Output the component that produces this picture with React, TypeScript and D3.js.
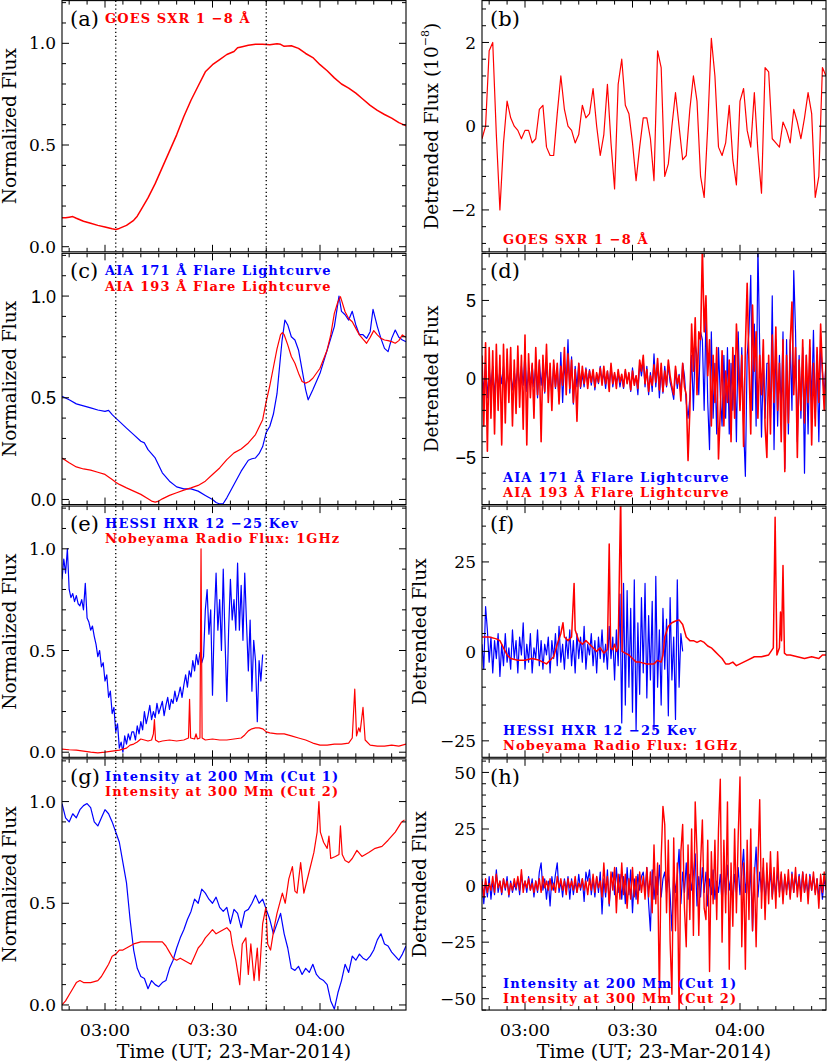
import React from 'react';
import * as d3 from 'd3';

// time axis: minutes after 02:48 UT on 23-Mar-2014
const T0 = Date.UTC(2014, 2, 23, 2, 48);
const SPAN_MIN = 96;
const MARKER_MIN = [15, 57]; // 03:03 and 03:45 dotted guides
const DET_STEP = 0.5; // cadence (min) of the sampled detrended series

type Pt = [number, number];

// (a) GOES SXR 1-8 A, normalized
const goesNorm: Pt[] = [
  [0, 0.143], [1, 0.142], [2, 0.145], [3, 0.148], [4, 0.14], [6, 0.125], [8, 0.115], [10, 0.105],
  [12, 0.097], [14, 0.088], [15, 0.085], [16, 0.09], [18, 0.105], [20, 0.13], [21, 0.15], [22, 0.18],
  [24, 0.24], [26, 0.31], [28, 0.39], [30, 0.47], [32, 0.55], [34, 0.64], [36, 0.72], [38, 0.79],
  [40, 0.86], [42, 0.895], [44, 0.92], [46, 0.945], [48, 0.96], [49, 0.978], [50, 0.982], [52, 0.99],
  [54, 0.995], [56, 0.995], [58, 0.993], [60, 0.998], [61, 0.995], [62, 0.985], [64, 0.988], [66, 0.975],
  [68, 0.95], [70, 0.93], [72, 0.895], [74, 0.865], [76, 0.83], [78, 0.8], [80, 0.78], [82, 0.755],
  [84, 0.725], [86, 0.695], [88, 0.67], [90, 0.65], [92, 0.632], [94, 0.61], [96, 0.595],
];

// (b) GOES detrended, one value per minute
const goesDet = [
  -0.3, 0, 1.8, 2.0, -0.2, -2.0, -0.4, 0.6, 0.2, 0, -0.1, -0.3, -0.1, -0.1, -0.4, -0.3, 0.4, 0.5, -0.5, -0.7,
  -0.7, 0.3, 1.2, 0.4, 0, -0.1, -0.4, -0.2, 0.5, 0.2, 0.3, 0.9, 0, -0.7, -0.2, 1.0, -0.4, -1.5, 1.0, 1.6,
  0.5, 0.3, -0.4, -1.3, -0.5, 0.2, 0.2, -0.3, -1.3, 1.8, 1.4, -1.2, -0.9, 0, 0.8, 0, -0.8, -0.7, 0.4, 1.2,
  0.6, -1.2, -1.7, 0, 2.1, 1.2, -0.5, -0.7, -0.4, 0.5, -0.8, -1.4, 0.6, 0.9, -0.1, -0.5, 0.8, -0.6, -1.6, 1.4,
  1.3, -0.3, -0.4, -0.5, 0.1, -0.1, -0.4, 0.4, 0.1, -0.3, 0.2, 0.8, 0.3, -1.7, -1.2, 1.4, 1.2,
];

// (c) AIA flare lightcurves, normalized
const aia171Norm: Pt[] = [
  [0, 0.507], [2, 0.49], [4, 0.47], [6, 0.46], [8, 0.45], [10, 0.44], [12, 0.433], [13, 0.438], [14, 0.417],
  [15, 0.4], [16, 0.384], [18, 0.351], [20, 0.319], [22, 0.286], [23, 0.278], [24, 0.245], [26, 0.204],
  [28, 0.131], [30, 0.09], [32, 0.062], [34, 0.052], [36, 0.052], [38, 0.041], [40, 0.02], [42, 0.0],
  [43, -0.015], [44, -0.022], [45, -0.02], [46, 0.008], [48, 0.074], [50, 0.139], [52, 0.193], [53, 0.2],
  [54, 0.204], [55, 0.225], [56, 0.26], [57, 0.33], [58, 0.36], [59, 0.42], [60, 0.52], [60.7, 0.65],
  [61.4, 0.78], [62.2, 0.882], [63, 0.858], [64, 0.8], [65, 0.784], [66, 0.735], [67, 0.637], [68, 0.539],
  [68.7, 0.49], [70, 0.539], [72, 0.62], [74, 0.735], [76, 0.85], [77.3, 1.0], [78, 0.925], [79, 0.908],
  [80, 0.882], [81, 0.925], [82, 0.858], [83, 0.81], [84, 0.81], [85, 0.792], [86, 0.825], [86.8, 0.935],
  [88, 0.85], [89, 0.792], [90, 0.743], [91, 0.727], [92, 0.792], [93, 0.833], [94, 0.797], [95, 0.784], [96, 0.776],
];
const aia193Norm: Pt[] = [
  [0, 0.204], [2, 0.18], [4, 0.16], [6, 0.15], [8, 0.144], [10, 0.134], [12, 0.123], [14, 0.098], [15, 0.085],
  [16, 0.074], [18, 0.057], [20, 0.041], [22, 0.025], [24, 0.003], [25, -0.008], [26, -0.013], [27, -0.008],
  [28, 0.003], [30, 0.02], [32, 0.033], [34, 0.046], [36, 0.057], [38, 0.069], [40, 0.09], [42, 0.123],
  [44, 0.155], [46, 0.196], [48, 0.229], [50, 0.248], [52, 0.278], [54, 0.319], [56, 0.392], [57, 0.482],
  [58, 0.56], [59, 0.65], [60, 0.74], [61, 0.81], [61.5, 0.82], [62, 0.81], [63, 0.76], [64, 0.703],
  [65, 0.67], [66, 0.621], [67, 0.58], [68, 0.572], [69, 0.58], [70, 0.596], [72, 0.645], [74, 0.735],
  [75, 0.809], [76, 0.915], [77, 0.972], [77.7, 0.997], [78, 0.98], [79, 0.923], [80, 0.89], [81, 0.874],
  [82, 0.841], [83, 0.809], [84, 0.788], [85, 0.768], [86, 0.797], [87, 0.83], [88, 0.809], [89, 0.792],
  [90, 0.784], [91, 0.781], [92, 0.776], [93, 0.768], [94, 0.781], [95, 0.809], [96, 0.797],
];

// (d) AIA detrended, sampled every DET_STEP minutes
const aia171Det = [
  0.5, -0.8, 1.0, -1.2, 0.6, -0.5, 0.8, -1.0, 0.4, -0.6,
  0.6, -0.3, 0.8, -0.9, 0.5, -0.4, 0.3, -0.7, 0.5, -0.5,
  1.0, -0.6, 0.8, -0.4, 1.7, -0.8, 0.6, -0.3, 0.9, -0.5,
  0.8, -1.2, 1.1, -0.4, 0.7, -0.9, 1.0, -0.6, 0.5, -1.0,
  0.9, -0.6, 0.7, -1.4, 1.7, -1.5, 1.0, -0.3, 2.5, -0.9,
  1.4, -1.6, 0.8, -0.5, 1.0, -0.6, 0.3, -0.5, 0.7, -0.3,
  0.6, -0.4, 0.5, -0.7, 0.3, -0.3, 0.8, -0.2, 0.4, -0.6,
  0.5, -0.4, 0.8, -0.5, 0.3, -0.2, 0.4, -0.5, 0.2, -0.6,
  0.5, -0.2, 0.3, -0.8, 0.7, -0.3, 0.2, -1.0, 1.0, 0.2,
  1.2, -0.5, 0.8, -1.0, 0.4, -0.8, 1.6, -0.5, 1.0, -1.2,
  0.6, -0.9, 0.8, -0.5, 0.9, -0.2, -0.7, -1.3, 0.6, -0.6,
  0.3, -1.0, 1.0, 0.2, -1.5, -2.5, -1.2, 1.5, -2.0, 2.2,
  1.5, -1.0, 3.0, 2.5, -2.0, 4.0, -1.5, -4.5, 3.0, -2.5,
  1.0, -3.5, 2.0, -1.0, -3.0, 1.5, -2.5, 2.0, -3.5, 1.0,
  -2.0, 1.5, -4.0, 3.0, -1.5, 2.0, -3.0, -6.2, 1.5, 3.0,
  6.6, -2.0, 3.5, -3.0, 8.4, 2.0, -3.7, 1.0, -2.5, 1.0,
  1.0, -2.5, 5.3, -4.5, 2.5, -3.0, 1.5, -2.0, 3.0, -5.7,
  2.5, -3.5, 2.5, -2.0, 6.9, 3.0, -4.0, 1.5, -2.5, 2.0,
  -6.0, 1.5, -3.5, 2.0, -1.5, 3.1, -2.5, 1.5, -4.0, 2.2,
  0.5, -1.0, 1.0,
];
const aia193Det = [
  1.5, -3.0, 2.3, -4.6, 2.0, -2.5, 1.8, -3.5, 2.2, -2.0,
  1.5, -4.2, 2.2, -2.8, 1.9, -1.5, 2.0, -3.0, 1.2, -2.2,
  2.1, -1.8, 1.5, -3.2, 2.8, -4.2, 1.6, -1.2, 1.0, -2.5,
  2.0, -1.0, 1.2, -4.0, 1.5, -0.8, 2.2, -1.5, 1.0, -2.0,
  1.2, -0.5, 1.0, -1.6, 0.8, -0.4, 2.0, -1.0, 1.6, -0.6,
  1.2, -1.5, 0.6, -2.7, 1.0, -0.5, 0.8, -0.3, 0.6, -0.6,
  0.5, -0.2, 0.6, -0.5, 0.4, -0.2, 0.7, -0.4, 0.8, -0.3,
  0.5, -0.8, 1.0, -0.3, 0.4, -0.6, 0.6, -0.2, 0.3, -0.5,
  0.6, -0.3, 0.4, -0.7, 0.5, -0.4, 0.2, -0.6, 1.2, 0.5,
  1.5, -0.3, 0.6, -0.8, 0.2, -0.4, 0.9, -0.2, 1.3, -0.7,
  1.0, -0.8, 0.5, -0.4, 1.2, 0.2, -0.5, -1.0, 0.8, -0.3,
  0.2, -1.4, 1.0, -0.5, -1.0, -5.2, -2.0, 3.5, 0.5, 3.9,
  -1.0, 3.0, 2.5, 8.4, 3.0, 5.3, 0.2, 2.5, -3.0, 1.5,
  -1.5, 2.0, -5.1, -2.0, 1.8, -3.0, 0.5, -1.5, 1.2, -4.0,
  2.0, -2.5, 3.5, 1.0, -2.0, 1.5, -4.3, 2.0, 6.1, 1.0,
  -3.5, 4.7, 0.5, 3.0, -2.5, 1.5, -1.0, 2.5, -3.0, -5.0,
  1.5, -3.5, 2.8, -1.5, 3.3, -2.0, 1.0, -4.0, 2.5, -5.9,
  1.5, -2.8, 2.2, 4.9, -1.0, 2.0, -5.0, 1.2, -2.0, 2.5,
  -2.8, 1.5, -1.5, 2.5, -4.2, 1.0, -3.0, 2.0, -1.5, 3.5,
  0.5, -2.0, 1.0,
];

// (e) RHESSI 12-25 keV (sampled) and Nobeyama 1 GHz, normalized
const hessiNorm = [
  0.85, 0.95, 0.88, 1.0, 0.8, 0.76, 0.78, 0.74, 0.77, 0.73,
  0.72, 0.75, 0.7, 0.83, 0.66, 0.64, 0.6, 0.62, 0.57, 0.53,
  0.47, 0.5, 0.42, 0.44, 0.35, 0.38, 0.27, 0.3, 0.19, 0.22,
  0.1, 0.14, 0.02, 0.05, 0.0, 0.08, 0.04, 0.09, 0.06, 0.1,
  0.1, 0.06, 0.13, 0.09, 0.15, 0.11, 0.2, 0.14, 0.18, 0.23,
  0.16, 0.2, 0.17, 0.24, 0.19, 0.22, 0.25, 0.18, 0.23, 0.27,
  0.21, 0.26, 0.24, 0.3, 0.25, 0.28, 0.32, 0.27, 0.33, 0.38,
  0.32, 0.4, 0.37, 0.45, 0.4, 0.48, 0.43, 0.49, 0.44, 0.47,
  0.7, 0.8, 0.58, 0.7, 0.28, 0.65, 0.88, 0.6, 0.75, 0.5,
  0.9, 0.55, 0.25, 0.6, 0.85, 0.65, 0.75, 0.6, 0.93, 0.6,
  0.82, 0.55, 0.88, 0.63, 0.4, 0.65, 0.3, 0.55, 0.45, 0.15,
  0.45, 0.35, 0.48,
];
const nobeyamaNorm: Pt[] = [
  [0, 0.015], [2, 0.012], [4, 0.01], [6, 0.005], [8, 0.0], [10, -0.003], [12, 0.0], [14, 0.005], [16, 0.01],
  [18, 0.02], [19, 0.035], [20, 0.04], [21, 0.05], [22, 0.065], [23, 0.06], [24, 0.055], [25, 0.06],
  [25.5, 0.09], [25.8, 0.16], [26.1, 0.06], [27, 0.05], [28, 0.055], [30, 0.06], [32, 0.055], [34, 0.06],
  [35.3, 0.07], [35.6, 0.26], [35.9, 0.07], [37, 0.065], [37.4, 0.09], [37.8, 0.065], [38.5, 0.07],
  [38.8, 1.0], [39.1, 0.07], [40, 0.06], [42, 0.065], [44, 0.06], [46, 0.06], [48, 0.065], [50, 0.07],
  [51, 0.085], [52, 0.105], [53, 0.115], [54, 0.12], [55, 0.12], [56, 0.115], [57, 0.1], [58, 0.095],
  [60, 0.09], [62, 0.09], [64, 0.08], [66, 0.07], [68, 0.06], [70, 0.045], [72, 0.035], [74, 0.035],
  [76, 0.04], [78, 0.04], [80, 0.045], [81, 0.07], [81.7, 0.31], [82.2, 0.08], [82.8, 0.12], [83.2, 0.1],
  [84, 0.22], [84.6, 0.06], [86, 0.035], [88, 0.03], [90, 0.03], [92, 0.035], [94, 0.03], [96, 0.04],
];

// (f) detrended RHESSI (sampled) and Nobeyama
const hessiDet = [
  2, -5, 12.5, 6, -3, 4, -6, 3, -2, 5,
  -7, 2, -4, 5, -3, 1, -5, 6, -2, 3,
  -6, 4, -1, 8, -5, 2, -3, 5, -6, 1,
  -2, 6, -4, 3, -5, 2, -1, 4, -6, 3,
  -2, 5, -4, 7, -3, 2, -5, 4, -2, 6,
  -4, 3, -6, 5, -2, 4, -3, 7, -5, 2,
  -1, 5, -4, 3, -6, 4, -2, 6, -3, 2,
  -5, 7, -2, 4, -8, 6, -4, 16, -20, 19,
  -15, 17, -10, 12, -17, 20, -22, 8, -12, 15,
  -6, 19, -13, 10, -8, 14, -22, 21, -10, 6,
  -15, 12, -5, 9, -18, 15, -8, 4, -19, 20,
  -10, 5, 0,
];
const nobeyamaDet: Pt[] = [
  [0, 4], [2, 4], [4, 3.5], [5, 3], [6, 1], [7, -1], [8, -2], [10, -2.5], [12, -2.5], [14, -2],
  [16, -2.5], [17, -3], [18, -3.5], [19, -2.5], [20, -1.5], [21, 2], [22, 5], [22.6, 8], [23, 4], [24, 3],
  [25, 4], [25.7, 19], [26, 6], [27, 3], [28, 2], [29, 3], [30, 2], [31, 1], [32, 0], [33, 1], [34, -0.5],
  [35, 0.5], [35.5, 30], [35.9, 1], [36.5, 0.5], [37, 2], [37.5, 0], [38, 1], [38.7, 44], [39.1, 0],
  [40, -0.5], [41, -1], [42, -2], [43, -3], [44, -3], [46, -3.5], [48, -3.5], [49, -2.5], [50, -3],
  [50.5, -1], [51, 4], [52, 7], [53, 8], [54, 8.5], [55, 8.8], [56, 7.5], [57, 4], [58, 3], [59, 3],
  [60, 2.5], [61, 3], [62, 2.5], [63, 1.5], [64, 1], [65, 0], [66, -1], [67, -2], [68, -3.5], [69, -3.5],
  [70, -3], [71, -4], [72, -3.5], [74, -2.5], [76, -1.5], [78, -1.5], [80, -1], [81.3, 1], [81.8, 37.5],
  [82.3, -1], [83, 1], [83.3, 11], [83.6, 3], [84, 24], [84.4, -0.5], [85, -1], [86, -1], [88, -1.5],
  [90, -2], [92, -1.5], [94, -2], [95, -1], [96, -1],
];

// (g) intensity along the two cuts, normalized
const cut1Norm = [
  0.99, 0.92, 0.9, 0.94, 0.92, 0.96, 0.98, 0.99, 0.97, 0.9,
  0.88, 0.92, 0.96, 0.94, 0.9, 0.85, 0.8, 0.7, 0.6, 0.42,
  0.27, 0.18, 0.14, 0.13, 0.08, 0.12, 0.1, 0.09, 0.11, 0.12,
  0.18, 0.22, 0.28, 0.33, 0.37, 0.42, 0.46, 0.52, 0.5, 0.57,
  0.55, 0.52, 0.5, 0.53, 0.48, 0.46, 0.48, 0.4, 0.47, 0.45,
  0.38, 0.46, 0.47, 0.5, 0.54, 0.5, 0.52, 0.47, 0.42, 0.35,
  0.4, 0.45, 0.35, 0.28, 0.18, 0.17, 0.19, 0.15, 0.18, 0.16,
  0.2, 0.15, 0.13, 0.12, 0.1, 0.02, -0.02, 0.06, 0.12, 0.2,
  0.16, 0.24, 0.22, 0.25, 0.23, 0.22, 0.24, 0.27, 0.32, 0.35,
  0.3, 0.29, 0.26, 0.24, 0.22, 0.25, 0.29,
];
const cut2Norm: Pt[] = [
  [0, 0.0], [1, 0.02], [2, 0.05], [3, 0.08], [4, 0.11], [5, 0.12], [6, 0.11], [7, 0.11], [8, 0.11],
  [9, 0.115], [10, 0.12], [11, 0.14], [12, 0.17], [13, 0.2], [14, 0.24], [15, 0.25], [16, 0.27], [17, 0.27],
  [18, 0.28], [19, 0.29], [20, 0.3], [22, 0.31], [24, 0.31], [26, 0.31], [28, 0.31], [29, 0.29], [30, 0.26],
  [31, 0.23], [32, 0.22], [33, 0.23], [34, 0.22], [35, 0.21], [36, 0.2], [37, 0.24], [38, 0.28], [39, 0.3],
  [40, 0.33], [41, 0.35], [42, 0.37], [43, 0.35], [44, 0.36], [45, 0.37], [46, 0.38], [47, 0.36],
  [47.5, 0.3], [48.5, 0.22], [49.6, 0.1], [50.3, 0.3], [51.3, 0.33], [52, 0.15], [52.7, 0.3], [53.6, 0.12],
  [54.5, 0.28], [55, 0.12], [56, 0.4], [56.9, 0.48], [57.4, 0.3], [58.2, 0.27], [59.2, 0.38], [60, 0.45],
  [61.5, 0.55], [62.3, 0.5], [63.3, 0.62], [64.3, 0.68], [65, 0.56], [65.6, 0.55], [66.6, 0.7], [67.5, 0.55],
  [68.9, 0.65], [70.3, 0.75], [71.2, 0.85], [71.7, 1.0], [72.1, 0.85], [73, 0.8], [74, 0.77], [74.5, 0.83],
  [75, 0.72], [76.3, 0.73], [77.3, 0.74], [77.7, 0.88], [78.2, 0.74], [79, 0.71], [80, 0.7], [81, 0.72],
  [82.3, 0.76], [83.7, 0.73], [85.6, 0.75], [87.4, 0.77], [89.3, 0.78], [91, 0.81], [93, 0.85], [94.8, 0.9],
  [95.6, 0.91],
];

// (h) detrended cut intensities, sampled every DET_STEP minutes
const cut1Det = [
  3, -8, 2, -5, 4, -6, 2, -4, 7, -3,
  2, -4, 3, -2, 4, -5, 2, -3, 1, -2,
  3, -4, 5, -1, 2, -3, 4, -2, 3, -5,
  2, -3, 6, 10, -2, 3, -6, 2, -9, 4,
  -2, 5, 10, -3, 2, -5, 3, -2, 4, -6,
  3, -4, 2, -3, 5, -2, 3, -7, 6, 2,
  7, -4, 3, -5, 4, -3, 6, -12.5, 3, -5,
  7, -9, 2, 6, -4, 8, -3, 5, -6, 4,
  -8, 8, -4, 7, -12, 3, -6, 5, -2, 4,
  6, -3, 8, -8, -20, 7, -6, 4, -4, 9,
  -5, 3, 6, -3, 5, -4, -20, 6, -3, 4,
  16, -8, 6, -3, 10, -6, 5, -2, 5, 14,
  -9, 4, -5, 8, -3, 6, -9, 3, -4, 7,
  -6, 2, -3, 5, -8, 6, -4, 9, -2, 4,
  -7, 5, -3, 8, -4, 6, 16, -3, 4, -6,
  8, -20, 4, 17, -5, 6, -3, 8, -7, 4,
  -2, 6, -5, 3, -4, 7, -3, 5, -6, 4,
  -2, 3, -5, 6, -3, 4, -2, 5, -4, 6,
  -3, 2, -4, 5, -2, 4, -3, 3, -5, 2,
  -6, 3, -1,
];
const cut2Det = [
  2, -5, 3, -3, 1, -2, 4, -3, 5, -1,
  2, -3, 3, -1, 2, -4, 1, -2, 3, -1,
  4, -2, 7, -3, 2, -1, 3, -2, 1, -3,
  2, -2, 3, -3, 4, -1, 2, -2, 3, -2,
  1, -3, 4, -1, 3, -2, 2, -4, 3, -1,
  2, -2, 4, -3, 1, -1, 3, -2, 2, -4,
  3, -2, 5, -3, 4, -1, 2, -5, 10, -3,
  4, -8, 6, -2, 8, -12, 5, -6, 10, -4,
  5, -10, 3, -6, 8, -5, 4, -8, 6, -3,
  4, -6, 8, -5, 6, -12, 18, -8, 10, -50,
  12, 35, 27, -12, 20, -25, -48, 21, -20, 10,
  -58, 15, 27, -10, -27, 18, -15, 25, -22, 37,
  15, -22, 10, 29, -10, -15, 20, -38, 15, -8,
  20, -15, 25, 47, -25, 20, -12, 37, -37, 10,
  -18, 25, -12, 22, 48, -27, 10, -37, 20, -15,
  25, -20, 8, -27, 10, 38, -10, 12, -15, 10,
  -8, 15, -6, 8, -10, 15, -5, 6, -8, 5,
  -4, 7, -6, 5, -3, 8, -5, 4, -7, 6,
  -3, 5, -8, 4, -2, 6, -4, 3, -10, 5,
  -3, 6, -2,
];

const RED = '#ff0000';
const BLUE = '#0000ff';
const SERIF = '"DejaVu Serif", "Liberation Serif", serif';
const SANS = '"Liberation Sans", "DejaVu Sans", sans-serif';

const LEFT_X = 62;
const RIGHT_X = 482;
const PW = 344;
const PH = 251.2;
const TOP0 = 0.6;
const ROW_STEP = 252.75;
const LEGEND_GAP = 15.2;

const sampled = (vals: number[], step: number): Pt[] => vals.map((v, i) => [i * step, v]);

const fmt1 = d3.format('.1f');
const fmt0 = d3.format('d');

interface PanelCfg {
  id: string;
  col: 0 | 1;
  row: number;
  domain: [number, number];
  major: number[];
  minor: [number, number, number];
  fmt: (v: number) => string;
  sansTicks?: boolean;
  title: string;
  titleSup?: string;
  titleX: number;
  legendAtBottom: boolean;
  series: { color: string; pts: Pt[]; width?: number }[];
  legend: { text: string; color: string }[];
}

const panels: PanelCfg[] = [
  {
    id: 'a', col: 0, row: 0, domain: [-0.025, 1.21], major: [0, 0.5, 1], minor: [0, 1.2, 0.1], fmt: fmt1,
    title: 'Normalized Flux', titleX: 9.5, legendAtBottom: false,
    series: [{ color: RED, pts: goesNorm, width: 1.5 }],
    legend: [{ text: 'GOES SXR 1 −8 Å', color: RED }],
  },
  {
    id: 'b', col: 1, row: 0, domain: [-3, 3], major: [-2, 0, 2], minor: [-2.8, 2.8, 0.4], fmt: fmt0,
    title: 'Detrended Flux (10', titleSup: '−8', titleX: 431.5, legendAtBottom: true,
    series: [{ color: RED, pts: sampled(goesDet, 1) }],
    legend: [{ text: 'GOES SXR 1 −8 Å', color: RED }],
  },
  {
    id: 'c', col: 0, row: 1, domain: [-0.025, 1.21], major: [0, 0.5, 1], minor: [0, 1.2, 0.1], fmt: fmt1,
    sansTicks: true, title: 'Normalized Flux', titleX: 9.5, legendAtBottom: false,
    series: [{ color: BLUE, pts: aia171Norm }, { color: RED, pts: aia193Norm }],
    legend: [{ text: 'AIA 171 Å Flare Lightcurve', color: BLUE }, { text: 'AIA 193 Å Flare Lightcurve', color: RED }],
  },
  {
    id: 'd', col: 1, row: 1, domain: [-8, 8], major: [-5, 0, 5], minor: [-8, 8, 1], fmt: fmt0,
    sansTicks: true, title: 'Detrended Flux', titleX: 431.5, legendAtBottom: true,
    series: [{ color: BLUE, pts: sampled(aia171Det, DET_STEP) }, { color: RED, pts: sampled(aia193Det, DET_STEP), width: 1.6 }],
    legend: [{ text: 'AIA 171 Å Flare Lightcurve', color: BLUE }, { text: 'AIA 193 Å Flare Lightcurve', color: RED }],
  },
  {
    id: 'e', col: 0, row: 2, domain: [-0.025, 1.21], major: [0, 0.5, 1], minor: [0, 1.2, 0.1], fmt: fmt1,
    title: 'Normalized Flux', titleX: 9.5, legendAtBottom: false,
    series: [{ color: BLUE, pts: sampled(hessiNorm, DET_STEP) }, { color: RED, pts: nobeyamaNorm }],
    legend: [{ text: 'HESSI HXR 12 −25 Kev', color: BLUE }, { text: 'Nobeyama Radio Flux: 1GHz', color: RED }],
  },
  {
    id: 'f', col: 1, row: 2, domain: [-29.6, 40.6], major: [-25, 0, 25], minor: [-25, 40, 5], fmt: fmt0,
    title: 'Detrended Flux', titleX: 420, legendAtBottom: true,
    series: [{ color: BLUE, pts: sampled(hessiDet, DET_STEP) }, { color: RED, pts: nobeyamaDet, width: 1.5 }],
    legend: [{ text: 'HESSI HXR 12 −25 Kev', color: BLUE }, { text: 'Nobeyama Radio Flux: 1GHz', color: RED }],
  },
  {
    id: 'g', col: 0, row: 3, domain: [-0.025, 1.21], major: [0, 0.5, 1], minor: [0, 1.2, 0.1], fmt: fmt1,
    title: 'Normalized Flux', titleX: 9.5, legendAtBottom: false,
    series: [{ color: BLUE, pts: sampled(cut1Norm, 1) }, { color: RED, pts: cut2Norm }],
    legend: [{ text: 'Intensity at 200 Mm (Cut 1)', color: BLUE }, { text: 'Intensity at 300 Mm (Cut 2)', color: RED }],
  },
  {
    id: 'h', col: 1, row: 3, domain: [-55, 56], major: [-50, -25, 0, 25, 50], minor: [-55, 55, 5], fmt: fmt0,
    title: 'Detrended Flux', titleX: 420, legendAtBottom: true,
    series: [{ color: BLUE, pts: sampled(cut1Det, DET_STEP) }, { color: RED, pts: sampled(cut2Det, DET_STEP), width: 1.4 }],
    legend: [{ text: 'Intensity at 200 Mm (Cut 1)', color: BLUE }, { text: 'Intensity at 300 Mm (Cut 2)', color: RED }],
  },
];

const toDate = (m: number) => new Date(T0 + m * 60000);

function Panel({ cfg }: { cfg: PanelCfg }) {
  const left = cfg.col === 0 ? LEFT_X : RIGHT_X;
  const top = TOP0 + cfg.row * ROW_STEP;
  const bottom = top + PH;
  const x = d3.scaleUtc().domain([toDate(0), toDate(SPAN_MIN)]).range([left, left + PW]);
  const y = d3.scaleLinear().domain(cfg.domain).range([bottom, top]);
  const line = d3.line<Pt>().x(d => x(toDate(d[0]))).y(d => y(d[1]));

  const majorX = x.ticks(d3.utcMinute.every(30)!);
  const minorX = x.ticks(d3.utcMinute.every(5)!);
  const [m0, m1, ms] = cfg.minor;
  const minorY = d3.range(m0, m1 + ms / 2, ms).map(v => +v.toFixed(4));
  const clipId = `clip-${cfg.id}`;
  const isBottom = cfg.row === 3;
  const tickFont = cfg.sansTicks ? SANS : SERIF;

  const legendY = (i: number) =>
    cfg.legendAtBottom
      ? cfg.legend.length === 1 ? bottom - 8 : bottom - 7.3 - LEGEND_GAP + i * LEGEND_GAP
      : top + 22 + i * LEGEND_GAP;
  const legendX = cfg.legendAtBottom ? left + 21 : left + 43;

  return (
    <g>
      <defs>
        <clipPath id={clipId}>
          <rect x={left} y={top} width={PW} height={PH} />
        </clipPath>
      </defs>
      <g clipPath={`url(#${clipId})`}>
        {cfg.series.map((s, i) => (
          <path key={i} d={line(s.pts) ?? ''} fill="none" stroke={s.color}
            strokeWidth={s.width ?? 1.2} strokeLinejoin="round" />
        ))}
      </g>
      {cfg.col === 0 && MARKER_MIN.map(m => (
        <line key={m} x1={x(toDate(m))} x2={x(toDate(m))} y1={top} y2={bottom}
          stroke="#000" strokeWidth={1.3} strokeDasharray="1.3 2.6" />
      ))}
      <rect x={left} y={top} width={PW} height={PH} fill="none" stroke="#000" strokeWidth={1.1} />
      {minorX.map(t => {
        const len = majorX.some(mt => +mt === +t) ? 7 : 4;
        const px = x(t);
        return (
          <g key={+t}>
            <line x1={px} x2={px} y1={bottom} y2={bottom - len} stroke="#000" />
            <line x1={px} x2={px} y1={top} y2={top + len} stroke="#000" />
          </g>
        );
      })}
      {minorY.map(v => {
        const len = cfg.major.some(mv => Math.abs(mv - v) < 1e-6) ? 7 : 4;
        const py = y(v);
        return (
          <g key={v}>
            <line x1={left} x2={left + len} y1={py} y2={py} stroke="#000" />
            <line x1={left + PW} x2={left + PW - len} y1={py} y2={py} stroke="#000" />
          </g>
        );
      })}
      {cfg.major.map(v => (
        <text key={v} x={left - 6} y={y(v)} dy="0.36em" textAnchor="end"
          fontFamily={tickFont} fontSize={cfg.sansTicks ? 18 : 17}>{cfg.fmt(v)}</text>
      ))}
      <text transform={`translate(${cfg.titleX},${(top + bottom) / 2}) rotate(-90)`} dy="0.35em"
        textAnchor="middle" fontFamily={SERIF} fontSize={18.5}>
        {cfg.title}
        {cfg.titleSup && <tspan fontSize={11} dy="-0.8em">{cfg.titleSup}</tspan>}
        {cfg.titleSup && <tspan fontSize={18.5} dy="0.5em">)</tspan>}
      </text>
      <text x={left + 8} y={top + 25} fontFamily={SERIF} fontSize={21}>({cfg.id})</text>
      {cfg.legend.map((l, i) => (
        <text key={i} x={legendX} y={legendY(i)} fill={l.color} fontFamily={SERIF}
          fontWeight="bold" fontSize={13} letterSpacing={1.1}>{l.text}</text>
      ))}
      {isBottom && majorX.map(t => (
        <text key={+t} x={x(t)} y={1036} textAnchor="middle" fontFamily={SERIF} fontSize={17.5}>
          {d3.utcFormat('%H:%M')(t)}
        </text>
      ))}
      {isBottom && (
        <text x={left + PW / 2} y={1058} textAnchor="middle" fontFamily={SERIF} fontSize={19}>
          Time (UT; 23-Mar-2014)
        </text>
      )}
    </g>
  );
}

export default function App() {
  return (
    <svg width={830} height={1063} viewBox="0 0 830 1063"
      style={{ position: 'absolute', left: 0, top: 0, background: '#fff' }}>
      <rect width={830} height={1063} fill="#fff" />
      {panels.map(p => <Panel key={p.id} cfg={p} />)}
    </svg>
  );
}
